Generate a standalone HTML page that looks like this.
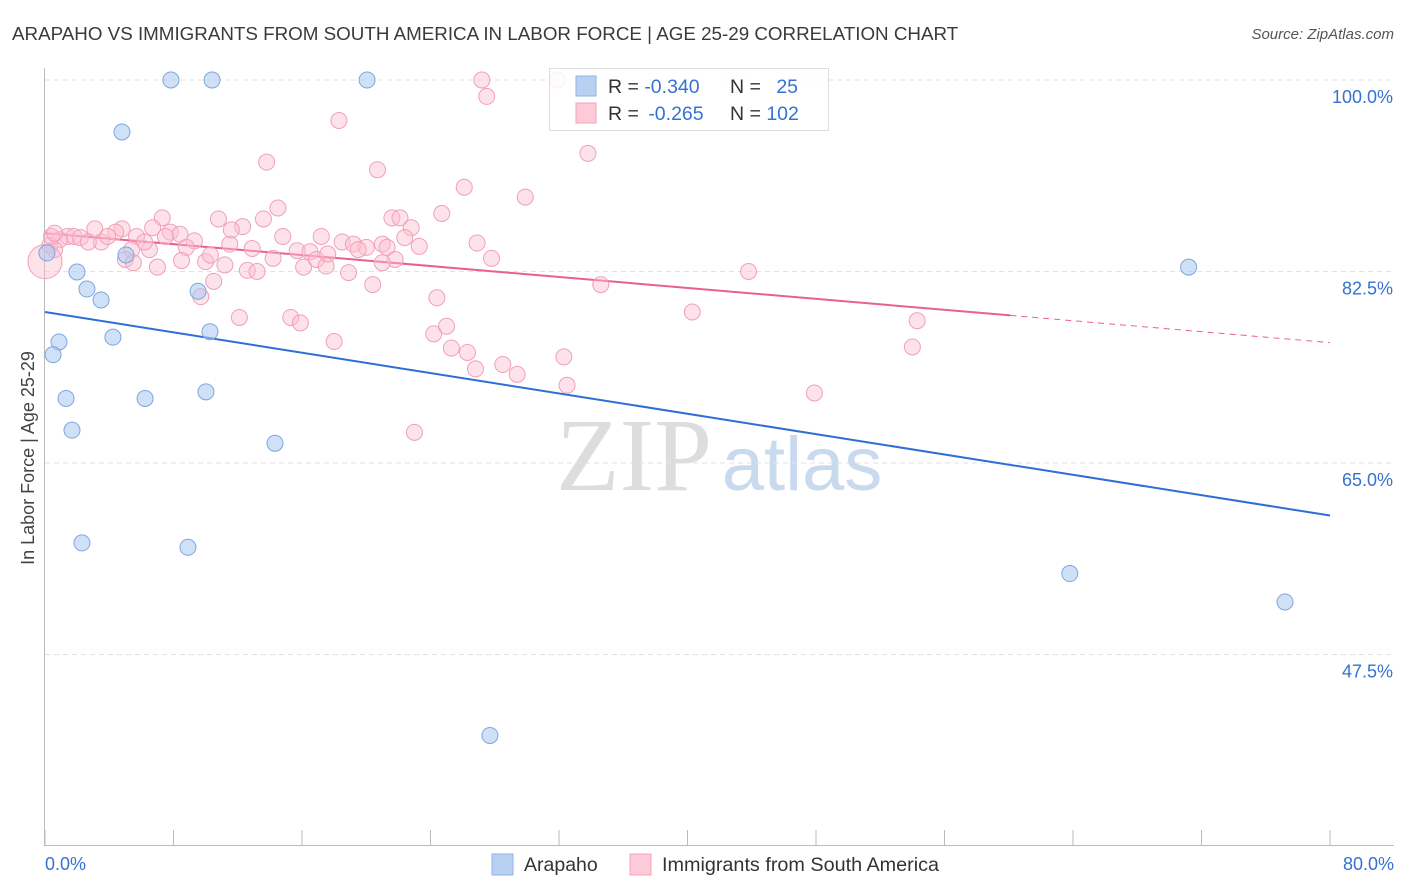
<!DOCTYPE html>
<html><head><meta charset="utf-8"><style>
body{margin:0;background:#fff;font-family:"Liberation Sans",sans-serif;}
svg{display:block}
</style></head><body>
<svg id="chart" width="1406" height="892" xmlns="http://www.w3.org/2000/svg">
<text x="12" y="40" font-size="18.8" fill="#3a3a3a">ARAPAHO VS IMMIGRANTS FROM SOUTH AMERICA IN LABOR FORCE | AGE 25-29 CORRELATION CHART</text>
<text x="1394" y="39" font-size="15" fill="#555" font-style="italic" text-anchor="end">Source: ZipAtlas.com</text>
<text x="34" y="458" font-size="18" fill="#444" text-anchor="middle" transform="rotate(-90 34 458)">In Labor Force | Age 25-29</text>
<g><text x="634" y="490" font-size="104" font-family="Liberation Serif,serif" fill="#ddd" text-anchor="middle">ZIP</text><text x="802" y="490" font-size="76" fill="#c9d9ee" text-anchor="middle">atlas</text></g>
<g id="grid"></g><g id="axes"></g><g id="trends"></g><g id="pts"></g>
<g>
<rect x="549.5" y="68.5" width="279" height="62" fill="rgba(255,255,255,0.85)" stroke="#ddd"/>
<rect x="576" y="76" width="20" height="20" fill="#b8d1f3" stroke="#8fb2e6"/>
<rect x="576" y="103" width="20" height="20" fill="#fdcad8" stroke="#f1a3bb"/>
<text x="608" y="93" font-size="19.5" fill="#333">R = <tspan fill="#3572d1">-0.340</tspan></text><text x="730" y="93" font-size="19.5" fill="#333">N = <tspan fill="#3572d1" dx="10">25</tspan></text>
<text x="608" y="120" font-size="19.5" fill="#333">R = <tspan fill="#3572d1" dx="4">-0.265</tspan></text><text x="730" y="120" font-size="19.5" fill="#333">N = <tspan fill="#3572d1">102</tspan></text>
</g>
<g>
<rect x="492" y="854" width="21" height="21" fill="#b8d1f3" stroke="#8fb2e6"/>
<text x="524" y="871" font-size="19.5" fill="#333">Arapaho</text>
<rect x="630" y="854" width="21" height="21" fill="#fdcad8" stroke="#f1a3bb"/>
<text x="662" y="871" font-size="19.8" fill="#333">Immigrants from South America</text>
</g>
</svg>
<script>
const yTicks=[100,82.5,65,47.5];
const yTickLabels=["100.0%","82.5%","65.0%","47.5%"];
const xTickLabels=["0.0%","80.0%"];
const blueX=[7.84,10.4,20.05,4.79,5.04,1.99,2.61,3.49,9.53,0.87,0.5,4.23,10.27,1.31,6.23,10.02,1.68,14.32,2.3,8.9,27.7,71.2,63.8,77.2,0.12];
const blueY=[100,100,100,95.25,84.01,82.46,80.9,79.9,80.7,76.06,74.9,76.5,77.0,70.9,70.9,71.5,68.0,66.8,57.7,57.3,40.1,82.9,54.9,52.3,84.2];
const pinkX=[27.2,27.5,31.9,18.3,33.8,13.8,20.7,26.1,29.9,14.5,24.7,7.3,10.8,13.6,21.6,22.1,12.3,22.8,6.7,7.8,4.8,3.1,4.4,1.4,1.8,2.2,0.9,3.5,2.7,5.7,8.4,9.3,11.5,12.9,14.8,17.2,18.5,19.2,20.0,21.0,21.3,22.4,23.3,26.9,15.7,16.5,8.8,6.5,5.4,5.0,5.5,7.0,8.5,10.0,10.3,11.2,12.6,13.2,16.1,16.9,17.5,18.9,21.8,27.8,20.4,10.5,9.7,24.4,34.6,43.8,12.1,15.3,15.9,18.0,24.2,25.0,25.3,26.3,26.8,28.5,29.4,32.3,32.5,40.3,54.3,54.0,47.9,23.0,0.3,0.6,0.4,3.9,7.5,6.2,11.6,14.2,17.6,19.5,21.0,0.6,0];
const pinkY=[100,98.5,100,96.3,93.3,92.5,91.8,90.2,89.3,88.3,87.8,87.4,87.3,87.3,87.4,87.4,86.6,86.5,86.5,86.1,86.4,86.4,86.1,85.7,85.7,85.6,85.4,85.2,85.2,85.7,85.9,85.3,85.0,84.6,85.7,85.7,85.2,85.0,84.7,85.0,84.7,85.6,84.8,85.1,84.4,84.3,84.7,84.5,84.5,83.6,83.3,82.9,83.5,83.4,84.0,83.1,82.6,82.5,82.9,83.6,83.0,82.4,83.6,83.7,81.3,81.6,80.2,80.1,81.3,82.5,78.3,78.3,77.8,76.1,76.8,77.5,75.5,75.1,73.6,74.0,73.1,74.7,72.1,78.8,78.0,75.6,71.4,67.8,84.9,84.5,85.7,85.7,85.7,85.2,86.3,83.7,84.1,84.5,83.3,86.0,83.4];
const blueTrend=[78.8,60.2];
const pinkTrend=[86.0,76.0];
const pinkSolidEnd=60.1;
const NS="http://www.w3.org/2000/svg";
const X=v=>45+v/80*1285, Y=v=>80+(100-v)*10.943;
function mk(tag,attrs,parent){const e=document.createElementNS(NS,tag);for(const k in attrs)e.setAttribute(k,attrs[k]);document.getElementById(parent).appendChild(e);return e;}
yTicks.forEach((t,i)=>{
 const l=mk('line',{x1:45,x2:1394,y1:Y(t),y2:Y(t),stroke:'#e2e2e2','stroke-dasharray':'5,4'},'grid');
 
 
 const tx=mk('text',{x:1393,y:Y(t)+23,'font-size':18,fill:'#3572d1','text-anchor':'end'},'grid');
 tx.textContent=yTickLabels[i];
 
 
});
const ax=mk('line',{x1:44.5,x2:44.5,y1:68,y2:845,stroke:'#bbb'},'axes');


const bx=mk('line',{x1:44,x2:1394,y1:845.5,y2:845.5,stroke:'#bbb'},'axes');


for(let i=0;i<=10;i++){const t=mk('line',{x1:X(i*8),x2:X(i*8),y1:830,y2:845,stroke:'#bbb'},'axes');
 
 }
[[0,45,'start'],[80,1394,'end']].forEach((d,i)=>{const t=mk('text',{x:d[1],y:870,'font-size':18,fill:'#3572d1','text-anchor':d[2]},'axes');t.textContent=xTickLabels[i];
 
 });
function pv(a,x){return a[0]+(a[1]-a[0])*x/80;}
let t1=mk('line',{x1:X(0),y1:Y(pv(blueTrend,0)),x2:X(80),y2:Y(pv(blueTrend,80)),stroke:'#2d6fd6','stroke-width':2},'trends');


let t2=mk('line',{x1:X(0),y1:Y(pv(pinkTrend,0)),x2:X(pinkSolidEnd),y2:Y(pv(pinkTrend,pinkSolidEnd)),stroke:'#e8608c','stroke-width':2},'trends');


let t3=mk('line',{x1:X(pinkSolidEnd),y1:Y(pv(pinkTrend,pinkSolidEnd)),x2:X(80),y2:Y(pv(pinkTrend,80)),stroke:'#e8608c','stroke-width':1,'stroke-dasharray':'6,5'},'trends');


pinkX.forEach((x,i)=>{const big=i===pinkX.length-1;const c=mk('circle',{cx:X(x),cy:Y(pinkY[i]),r:big?17:8,fill:'rgba(252,190,208,0.45)',stroke:'#f0a0ba','stroke-width':1},'pts');
 
 });
blueX.forEach((x,i)=>{const c=mk('circle',{cx:X(x),cy:Y(blueY[i]),r:8,fill:'rgba(170,200,240,0.55)',stroke:'#7ea6e0','stroke-width':1},'pts');
 
 });
</script>
</body></html>
